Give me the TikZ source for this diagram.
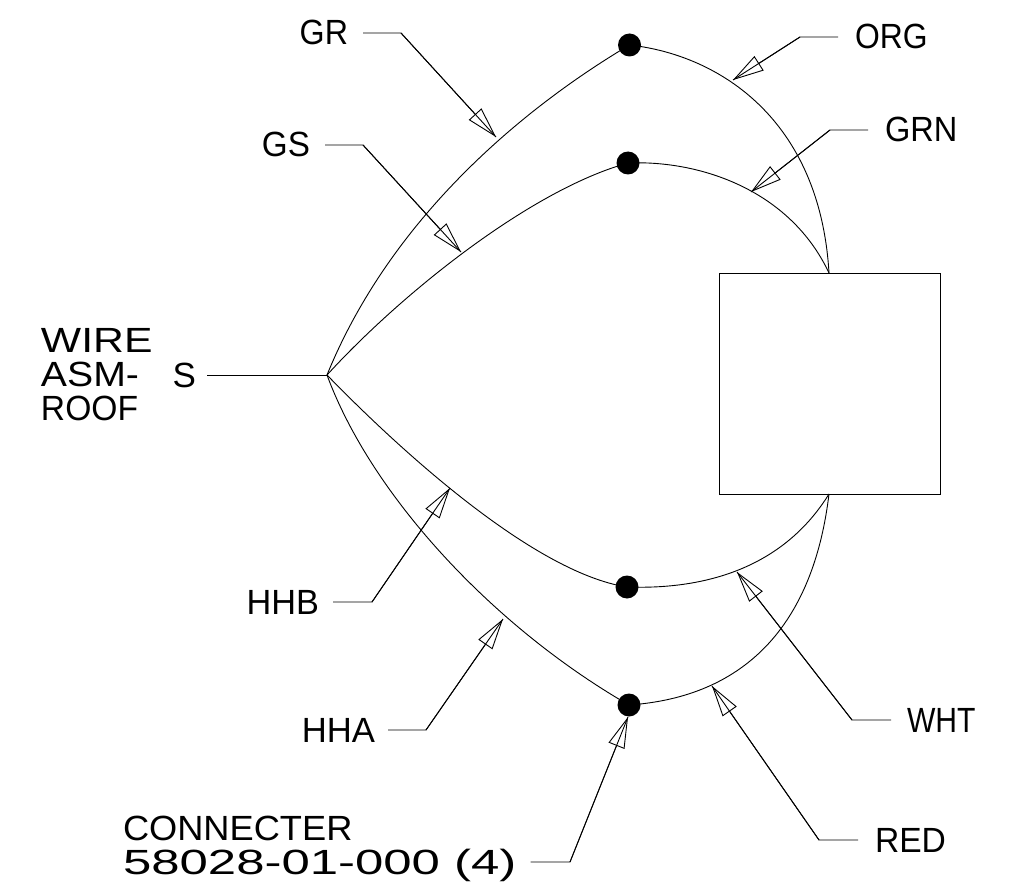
\documentclass[tikz,border=0pt]{standalone}
\usepackage{fontspec}
\setmainfont{Liberation Sans}
\usetikzlibrary{arrows.meta}
\newcommand{\sx}[2]{\scalebox{#1}[1]{#2}}
\tikzset{
  x=1pt,y=-1pt,
  wire/.style={draw=black,line width=0.9pt,line join=miter},
  lead/.style={wire,-{Triangle[open,length=31pt,width=17pt,line width=0.9pt]}},
  dot/.style={circle,fill=black,draw=none,minimum size=23pt,inner sep=0pt},
  lab/.style={font=\fontsize{35}{35}\selectfont,inner ysep=0pt,text height=24pt,text depth=0pt,inner xsep=0pt,outer sep=0pt},
  box/.style={draw=black,line width=0.9pt,minimum width=221pt,minimum height=221pt,inner sep=0pt}
}
\begin{document}
\begin{tikzpicture}
\useasboundingbox (0,0) rectangle (1013,888);
\coordinate (hub) at (327,375);
\node[box] (box) at (829.5,383.5) {};
\coordinate (bt) at (829,273);
\coordinate (bb) at (829,494);
\node[dot] (d1) at (629.5,45) {};
\node[dot] (d2) at (628,163) {};
\node[dot] (d3) at (627,587) {};
\node[dot] (d4) at (629,705) {};
% wires
\draw[wire] (hub) .. controls (390,220) and (520,110) .. (d1.center);
\draw[wire] (hub) .. controls (400,295) and (530,190) .. (d2.center);
\draw[wire] (hub) .. controls (390,440) and (530,572) .. (d3.center);
\draw[wire] (hub) .. controls (372,497) and (495,628) .. (d4.center);
\draw[wire] (d1.center) .. controls (720,55) and (820,120) .. (bt);
\draw[wire] (d2.center) .. controls (700,160) and (790,190) .. (bt);
\draw[wire] (d3.center) .. controls (710,590) and (785,565) .. (bb);
\draw[wire] (d4.center) .. controls (700,700) and (808,668) .. (bb);
% labels
\node[lab,anchor=east] (GR) at (348,33) {\sx{.92}{GR}};
\node[lab,anchor=east] (GS) at (310,145) {\sx{.95}{GS}};
\node[lab,anchor=west] (ORG) at (855,37) {\sx{.91}{ORG}};
\node[lab,anchor=west] (GRN) at (885,130) {\sx{.93}{GRN}};
\node[lab,anchor=east] (S) at (196,375) {S};
\node[lab,anchor=east] (HHB) at (319,602) {\sx{.98}{HHB}};
\node[lab,anchor=east] (HHA) at (375,730) {\sx{.99}{HHA}};
\node[lab,anchor=west] (WHT) at (907,720) {\sx{.86}{WHT}};
\node[lab,anchor=west] (RED) at (875,840) {\sx{.96}{RED}};
\node[lab,anchor=west] (wire) at (41,340) {\sx{1.22}{WIRE}};
\node[lab,anchor=west] (asm) at (41,374) {\sx{1.12}{ASM-}};
\node[lab,anchor=west] (roof) at (41,408.5) {\sx{.96}{ROOF}};
\node[lab,anchor=west] (conn) at (123,828) {\sx{1.035}{CONNECTER}};
\node[lab,anchor=west] (pn) at (123,862) {\sx{1.455}{58028-01-000 (4)}};
% leader bends and targets
\coordinate (grB) at (401,33);  \coordinate (grT) at (496,137);
\coordinate (gsB) at (363,145); \coordinate (gsT) at (461,252);
\coordinate (orB) at (800,37);  \coordinate (orT) at (733,80);
\coordinate (gnB) at (830,130); \coordinate (gnT) at (751,192);
\coordinate (hbB) at (372,602); \coordinate (hbT) at (450,488);
\coordinate (haB) at (426,730); \coordinate (haT) at (503,619);
\coordinate (pnB) at (570,862); \coordinate (pnT) at (628,717);
\coordinate (whB) at (852,720); \coordinate (whT) at (737,572);
\coordinate (reB) at (819,840); \coordinate (reT) at (712,686);
\draw[wire] ([xshift=11pt]S.east) -- (hub);
\draw[wire] ([xshift=15pt]GR.east) -- (grB) -- (grT);
\draw[wire] ([xshift=15pt]GS.east) -- (gsB) -- (gsT);
\draw[wire] ([xshift=-17pt]ORG.west) -- (orB) -- (orT);
\draw[wire] ([xshift=-17pt]GRN.west) -- (gnB) -- (gnT);
\draw[wire] ([xshift=14pt]HHB.east) -- (hbB) -- (hbT);
\draw[wire] ([xshift=13pt]HHA.east) -- (haB) -- (haT);
\draw[wire] ([xshift=14pt]pn.east) -- (pnB) -- (pnT);
\draw[wire] ([xshift=-16pt]WHT.west) -- (whB) -- (whT);
\draw[wire] ([xshift=-17pt]RED.west) -- (reB) -- (reT);
\foreach \a in {gr,gs,or,gn,hb,ha,pn,wh,re}{
  \draw[lead] (\a B) -- (\a T);
}
\end{tikzpicture}
\end{document}
